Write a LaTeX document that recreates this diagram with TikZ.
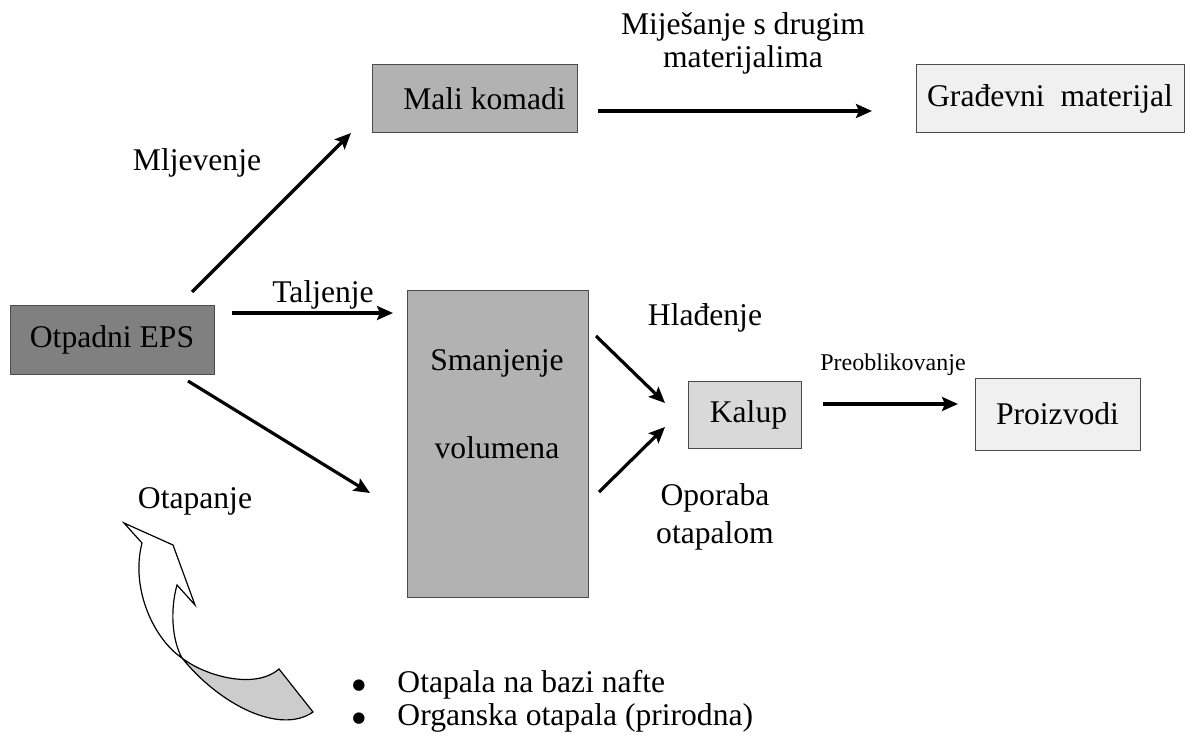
\documentclass[tikz,border=0pt]{standalone}
\usepackage{fontspec}
\setmainfont{Liberation Serif}
\newfontfamily\symfont{DejaVu Sans}
\usetikzlibrary{arrows.meta}

\definecolor{darkbox}{gray}{0.5}
\definecolor{midbox}{gray}{0.7}
\definecolor{lightbox}{gray}{0.85}
\definecolor{palebox}{gray}{0.94}
\definecolor{ribbon}{gray}{0.8}

\tikzset{
  box/.style={draw=black!70, line width=0.5pt, inner sep=0pt, font=\fontsize{15.8}{19}\selectfont},
  lbl/.style={anchor=base, inner sep=0pt, font=\fontsize{15.8}{19}\selectfont},
  small/.style={anchor=base, inner sep=0pt, font=\fontsize{12}{14}\selectfont},
  flow/.style={line width=1.6pt, -{Stealth[length=8pt,width=7pt,inset=1.5pt]}}
}
\newcommand{\blt}{{\symfont\fontsize{7.5}{8}\selectfont\raisebox{1.5pt}{●}}}

\begin{document}
\begin{tikzpicture}[x=0.5pt,y=-0.5pt]
            \useasboundingbox (0,0) rectangle (1185,738);

            \node[box, fill=darkbox, minimum width=102pt, minimum height=34.5pt] (eps) at (112,339.5) {Otpadni EPS};
            \node[box, fill=midbox, minimum width=102.5pt, minimum height=34pt] (mali) at (474.5,99) {\hspace{10pt}Mali komadi};
            \node[box, fill=palebox, minimum width=134pt, minimum height=34pt] (grad) at (1050,99) {Građevni\ \ materijal\hspace{6pt}};
            \node[box, fill=midbox, minimum width=90.5pt, minimum height=153pt] (vol) at (497.5,444) {};
            \node[lbl] (sma) at (497,370) {Smanjenje};
            \node[lbl] (vlm) at (497,458) {volumena};
            \node[box, fill=lightbox, minimum width=56.5pt, minimum height=33.5pt] (kal) at (744.5,414.5) {\hspace{4pt}Kalup};
            \node[box, fill=palebox, minimum width=82.5pt, minimum height=36pt] (pro) at (1057.5,414) {Proizvodi};

            \coordinate (A) at (192,292);
            \coordinate (B) at (351,133);
            \coordinate (C) at (232,313);
            \coordinate (D) at (393,313);
            \coordinate (E) at (188,381);
            \coordinate (F) at (370,493);
            \coordinate (G) at (598,111);
            \coordinate (H) at (872,111);
            \coordinate (I) at (596,336);
            \coordinate (J) at (665,403);
            \coordinate (K) at (599,492);
            \coordinate (L) at (665,427);
            \coordinate (M) at (823,404);
            \coordinate (N) at (958,404);

            \draw[flow] (A) -- (B);
            \draw[flow] (C) -- (D);
            \draw[flow] (E) -- (F);
            \draw[flow] (G) -- (H);
            \draw[flow] (I) -- (J);
            \draw[flow] (K) -- (L);
            \draw[flow] (M) -- (N);

            \node[lbl] (mlj) at (197,171) {Mljevenje};
            \node[lbl] (mij) at (743,35) {Miješanje s drugim};
            \node[lbl] (mat) at (743,68) {materijalima};
            \node[lbl] (tal) at (323,302) {Taljenje};
            \node[lbl] (hla) at (705,326) {Hlađenje};
            \node[small] (pre) at (893,370) {Preoblikovanje};
            \node[lbl] (opo) at (715,505) {Oporaba};
            \node[lbl] (ota) at (715,543) {otapalom};
            \node[lbl] (otp) at (195,508) {Otapanje};

            \draw[fill=white, line width=0.6pt] (142,543) -- (124,523) -- (173,545) -- (195,605) -- (177,585)
              .. controls (170,610) and (172,640) .. (182,658)
              .. controls (155,640) and (130,590) .. (142,543) -- cycle;
            \draw[fill=ribbon, line width=0.6pt] (182,658) .. controls (205,676) and (255,690) .. (279,669)
              -- (313,712) .. controls (280,735) and (220,705) .. (182,658) -- cycle;

            \node[lbl, anchor=base west] (b1) at (352,692) {\blt\hspace{16pt}Otapala na bazi nafte};
            \node[lbl, anchor=base west] (b2) at (352,725) {\blt\hspace{16pt}Organska otapala (prirodna)};
\end{tikzpicture}
\end{document}
